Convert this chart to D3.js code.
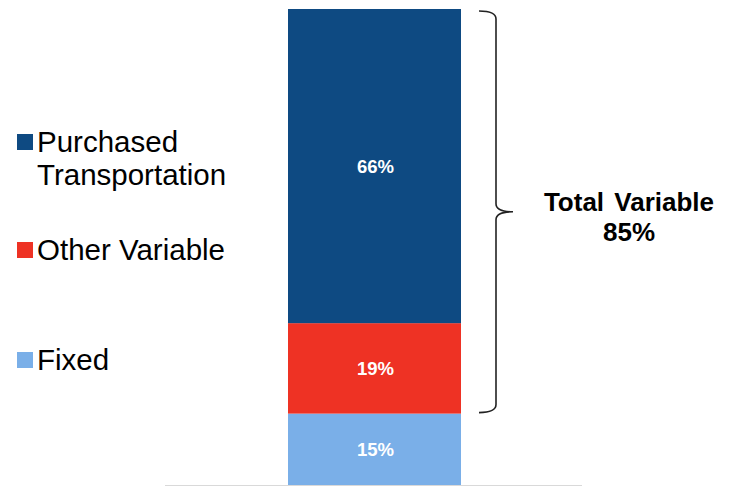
<!DOCTYPE html>
<html>
<head>
<meta charset="utf-8">
<script src="https://cdn.jsdelivr.net/npm/d3@7"></script>
<style>
  body { margin: 0; background: #fff; }
  svg { font-family: "Liberation Sans", Arial, sans-serif; }
</style>
</head>
<body>
<svg id="chart" width="735" height="486"></svg>
<script>
const categories = ['Cost'];
const seriesNames = ['Fixed', 'Other Variable', 'Purchased Transportation'];
const seriesValues = [15, 19, 66];
const seriesColors = ['#7aafe8', '#ee3224', '#0e4a82'];
const legendOrder = ['Purchased Transportation', 'Other Variable', 'Fixed'];
const braceLabel = ['Total Variable', '85%'];

const svg = d3.select('#chart');

const x = d3.scaleBand()
  .domain(categories)
  .range([288, 461])
  .padding(0);

const y = d3.scaleLinear()
  .domain([0, 100])
  .range([485, 9]);

// stacked segments
let acc = 0;
const stack = seriesNames.map((name, i) => {
  const d = { name, value: seriesValues[i], y0: acc, y1: acc + seriesValues[i], color: seriesColors[i] };
  acc += seriesValues[i];
  return d;
});

// baseline
svg.append('line')
  .attr('x1', 165).attr('x2', 582)
  .attr('y1', y(0) + 0.5).attr('y2', y(0) + 0.5)
  .attr('stroke', '#d9d9d9')
  .attr('stroke-width', 1);

const seg = svg.selectAll('.seg')
  .data(stack)
  .enter().append('g')
  .attr('class', 'seg');

seg.append('rect')
  .attr('x', x(categories[0]))
  .attr('width', x.bandwidth())
  .attr('y', (d) => y(d.y1))
  .attr('height', (d) => y(d.y0) - y(d.y1))
  .attr('fill', (d) => d.color);

seg.append('text')
  .attr('x', x(categories[0]) + x.bandwidth() / 2 + 1)
  .attr('y', (d) => (y(d.y0) + y(d.y1)) / 2)
  .attr('dy', '0.35em')
  .attr('text-anchor', 'middle')
  .attr('fill', '#fff')
  .attr('font-weight', 'bold')
  .attr('font-size', 18.5)
  .text((d) => `${d.value}%`);

// brace over variable part
const variable = stack.filter((d) => d.name !== 'Fixed');
const bTop = y(d3.max(variable, (d) => d.y1)) + 2;
const bBot = y(d3.min(variable, (d) => d.y0)) - 1;
const bMid = (bTop + bBot) / 2;
const bx0 = 479, bx1 = 496, tip = 513, r = 8;
const path = d3.path();
path.moveTo(bx0, bTop);
path.quadraticCurveTo(bx1, bTop, bx1, bTop + r);
path.lineTo(bx1, bMid - r);
path.quadraticCurveTo(bx1, bMid, tip, bMid);
path.quadraticCurveTo(bx1, bMid, bx1, bMid + r);
path.lineTo(bx1, bBot - r);
path.quadraticCurveTo(bx1, bBot, bx0, bBot);
svg.append('path')
  .attr('d', path.toString())
  .attr('fill', 'none')
  .attr('stroke', '#222')
  .attr('stroke-width', 1.6);

svg.append('text')
  .attr('x', 629)
  .attr('y', 211)
  .attr('text-anchor', 'middle')
  .attr('font-weight', 'bold')
  .attr('font-size', 26)
  .attr('fill', '#000')
  .selectAll('tspan')
  .data(braceLabel)
  .enter().append('tspan')
  .attr('x', 629)
  .attr('dy', (d, i) => (i === 0 ? 0 : 30))
  .attr('word-spacing', 3)
  .text((d) => d);

// legend
const legendY = { 'Purchased Transportation': 152, 'Other Variable': 260, Fixed: 370 };
const legendLines = { 'Purchased Transportation': ['Purchased', 'Transportation'] };
const legend = svg.selectAll('.legend')
  .data(legendOrder)
  .enter().append('g')
  .attr('class', 'legend')
  .attr('transform', (d) => `translate(0,${legendY[d]})`);

legend.append('rect')
  .attr('x', 17)
  .attr('y', -18)
  .attr('width', 16)
  .attr('height', 16)
  .attr('fill', (d) => seriesColors[seriesNames.indexOf(d)]);

legend.append('text')
  .attr('font-size', 29.5)
  .attr('fill', '#000')
  .selectAll('tspan')
  .data((d) => legendLines[d] || [d])
  .enter().append('tspan')
  .attr('x', 37)
  .attr('dy', (d, i) => (i === 0 ? 0 : 33))
  .text((d) => d);
</script>
</body>
</html>
